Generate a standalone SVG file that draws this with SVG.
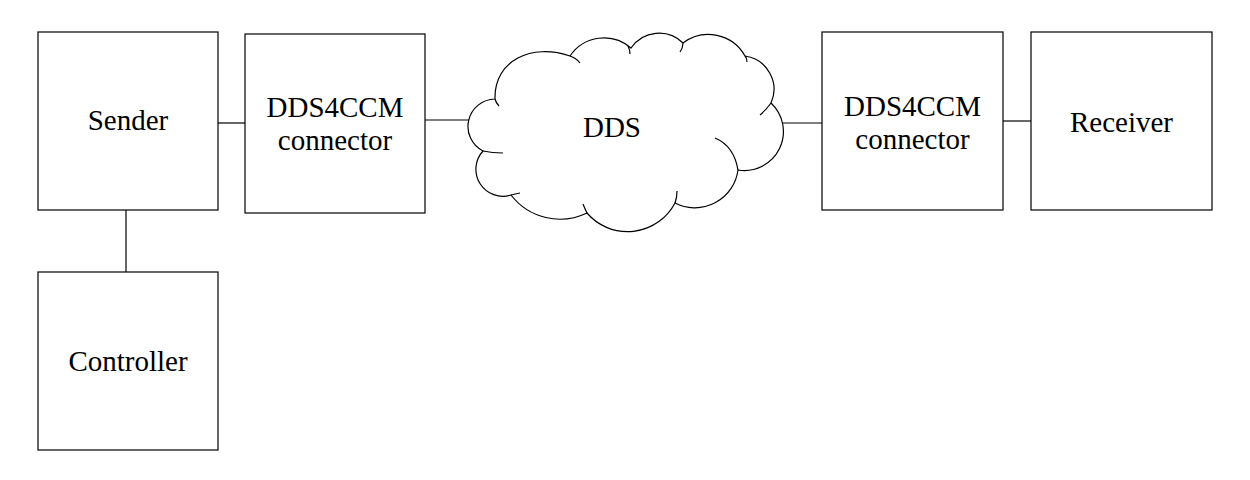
<svg xmlns="http://www.w3.org/2000/svg" width="1250" height="480" viewBox="0 0 1250 480">
<style>
.box{fill:#ffffff;stroke:#000000;stroke-width:1.2}
.ln{fill:none;stroke:#000000;stroke-width:1.2}
.lbl{font-family:"Liberation Serif","Times New Roman",serif;font-size:29px;fill:#000000;text-anchor:middle}
</style>
<rect width="1250" height="480" fill="#ffffff"/>
<g id="connectors">
<path class="ln" d="M218 123 H245"/>
<path class="ln" d="M425 120 H470"/>
<path class="ln" d="M781 123 H822"/>
<path class="ln" d="M1003 121 H1031"/>
<path class="ln" d="M126 210 V272"/>
</g>
<g id="sender">
<rect class="box" x="38" y="32" width="180" height="178"/>
<text class="lbl" x="128" y="130">Sender</text>
</g>
<g id="controller">
<rect class="box" x="38" y="272" width="180" height="178"/>
<text class="lbl" x="128" y="371">Controller</text>
</g>
<g id="connector-left">
<rect class="box" x="245" y="34" width="180" height="179"/>
<text class="lbl" x="335" y="117">DDS4CCM</text>
<text class="lbl" x="335" y="150">connector</text>
</g>
<g id="dds">
<path class="box" d="M483 151 A27.5 27.5 0 0 1 495 99 C494 60 532 43 570 56 A41 41 0 0 1 631 48 A34 34 0 0 1 683 43 A42 42 0 0 1 745 56 A33.6 33.6 0 0 1 771 103 A39 39 0 0 1 738 170 A43.5 43.5 0 0 1 675 203 A53.5 53.5 0 0 1 587 213 A62 62 0 0 1 511 195 A27 27 0 0 1 483 151 Z"/>
<path class="ln" d="M495 99 Q496 103 499 106 M570 56 Q576 58 580 63 M628 46 Q630 50 630 54 M683 43 Q683 48 680 52 M745 56 Q747 58 747 62 M771 103 Q766 110 760 115 M715 138 Q734 146 738 170 M677 191 Q677 198 675 203 M583 204 Q585 209 587 213 M511 195 Q515 194 520 193 M483 151 Q492 153 503 153"/>
<text class="lbl" x="612" y="137">DDS</text>
</g>
<g id="connector-right">
<rect class="box" x="822" y="32" width="181" height="178"/>
<text class="lbl" x="912.5" y="116">DDS4CCM</text>
<text class="lbl" x="912.5" y="149">connector</text>
</g>
<g id="receiver">
<rect class="box" x="1031" y="32" width="181" height="178"/>
<text class="lbl" x="1121.5" y="132">Receiver</text>
</g>
</svg>
